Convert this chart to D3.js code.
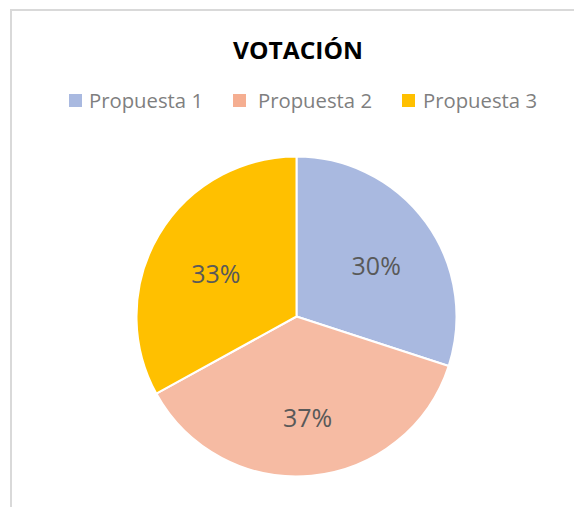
<!DOCTYPE html>
<html>
<head>
<meta charset="utf-8">
<script src="https://cdn.jsdelivr.net/npm/d3@7/dist/d3.min.js"></script>
<style>
  html, body { margin: 0; padding: 0; background: #ffffff; }
  svg { display: block; }
</style>
</head>
<body>
<svg id="chart" width="574" height="507"></svg>
<script>
// Vote share per proposal
const categories = ["Propuesta 1", "Propuesta 2", "Propuesta 3"];
const values = [30, 37, 33];
const colors = ["#a9b9e0", "url(#peachGrad)", "#ffc000"];
const legendSwatches = ["#a9b9e0", "#f5ae91", "#ffc000"];
const title = "VOTACIÓN";

const W = 574, H = 507;
const svg = d3.select("#chart");
const FONT = "'Open Sans', 'Noto Sans', sans-serif";

// Vertical gradient used on the second slice
const defs = svg.append("defs");
const grad = defs.append("linearGradient")
  .attr("id", "peachGrad")
  .attr("gradientUnits", "userSpaceOnUse")
  .attr("x1", 0).attr("x2", 0)
  .attr("y1", 316).attr("y2", 477);
grad.append("stop").attr("offset", "0%").attr("stop-color", "#f6bba3");
grad.append("stop").attr("offset", "100%").attr("stop-color", "#f4a27f");

// Chart area frame
svg.append("rect")
  .attr("x", 11).attr("y", 10)
  .attr("width", W + 20).attr("height", H + 20)
  .attr("fill", "#ffffff")
  .attr("stroke", "#d9d9d9")
  .attr("stroke-width", 2);

// Title
svg.append("text")
  .attr("x", 298).attr("y", 58.5)
  .attr("text-anchor", "middle")
  .attr("font-family", FONT)
  .attr("font-weight", 700)
  .attr("font-size", 23.5)
  .attr("textLength", 130)
  .attr("lengthAdjust", "spacingAndGlyphs")
  .attr("fill", "#000000")
  .text(title);

// Legend
const legendX = [69, 233, 402];
const legendTextX = [89, 258, 423];
const legend = svg.append("g");
categories.forEach((c, i) => {
  legend.append("rect")
    .attr("x", legendX[i]).attr("y", 94)
    .attr("width", 13).attr("height", 13)
    .attr("fill", legendSwatches[i]);
  legend.append("text")
    .attr("x", legendTextX[i]).attr("y", 107.5)
    .attr("font-family", FONT)
    .attr("font-size", 20)
    .attr("textLength", 114)
    .attr("lengthAdjust", "spacingAndGlyphs")
    .attr("fill", "#7f7f7f")
    .text(c);
});

// Pie
const cx = 296.5, cy = 316.5, R = 160;
const pie = d3.pie().sort(null).value(d => d)(values);
const arc = d3.arc().innerRadius(0).outerRadius(R);
const labelArc = d3.arc().innerRadius(R * 0.6).outerRadius(R * 0.6);
const total = d3.sum(values);

const g = svg.append("g").attr("transform", `translate(${cx},${cy})`);
g.selectAll("path.slice")
  .data(pie)
  .join("path")
  .attr("class", "slice")
  .attr("d", arc)
  .attr("fill", (d, i) => colors[i])
  .attr("stroke", "#ffffff")
  .attr("stroke-width", 2)
  .attr("stroke-linejoin", "round");

g.selectAll("text.pct")
  .data(pie)
  .join("text")
  .attr("class", "pct")
  .attr("transform", d => {
    const [x, y] = labelArc.centroid(d);
    return `translate(${x + 2},${y + 6})`;
  })
  .attr("text-anchor", "middle")
  .attr("dy", "0.36em")
  .attr("font-family", FONT)
  .attr("font-size", 25)
  .attr("fill", "#595959")
  .text(d => Math.round(d.value / total * 100) + "%");
</script>
</body>
</html>
